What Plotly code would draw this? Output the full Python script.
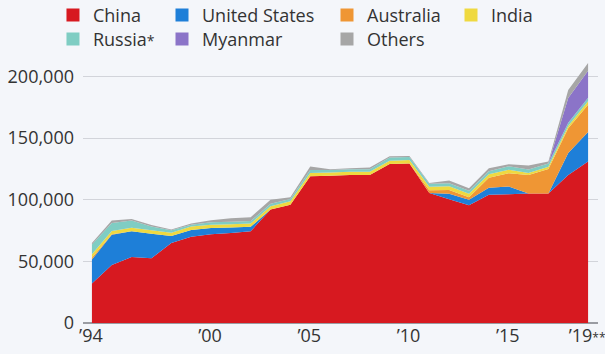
import plotly.graph_objects as go

years = list(range(1994, 2020))
tick_vals = [1994, 2000, 2005, 2010, 2015, 2019]
tick_text = ["’94", "’00", "’05", "’10", "’15", "’19<span style='font-size:12px'>**</span>"]

china = [32000, 47000, 53500, 52500, 65000, 70000, 72000, 73000, 74500, 92000, 96000,
         119000, 119500, 120000, 120000, 129000, 129500, 105500, 100500, 95500, 104000,
         104500, 105000, 105000, 120000, 131000]
united_states = [19500, 24500, 21000, 20000, 5500, 5500, 5000, 4500, 3500, 0, 0, 0, 0, 0, 0,
                 0, 0, 0, 4300, 4500, 5800, 6200, 0, 0, 18000, 24000]
australia = [1500, 500, 0, 0, 0, 0, 0, 0, 0, 0, 0, 0, 0, 0, 0, 0, 0, 2200, 3200, 2000, 8000,
             10800, 15000, 20000, 20000, 22000]
india = [2700, 2700, 2700, 2700, 2700, 2700, 2700, 2700, 2700, 2700, 2700, 2700, 2700, 2700,
         2700, 2700, 2700, 2800, 2900, 2900, 2900, 2900, 1700, 1800, 1800, 3000]
russia = [8000, 6500, 6000, 3000, 2000, 1600, 2000, 2000, 2000, 2000, 2000, 2500, 2000, 2000,
          2000, 2500, 2500, 2500, 2400, 2400, 2500, 2800, 2800, 2600, 2700, 2700]
myanmar = [0] * 24 + [20000, 22000]
others = [1300, 2000, 1200, 1300, 600, 900, 1600, 2800, 3100, 3300, 1300, 2800, 600, 800,
          1400, 1000, 800, 500, 2300, 2100, 2400, 1600, 3300, 1600, 6500, 6300]

series = [
    ("China", china, "#d71920"),
    ("United States", united_states, "#1e7fd8"),
    ("Australia", australia, "#ef9634"),
    ("India", india, "#efd940"),
    ("Russia<span style='font-size:14px'>*</span>", russia, "#7fcdc3"),
    ("Myanmar", myanmar, "#8b74c8"),
    ("Others", others, "#a6a6a6"),
]

# legend slot for each series: (column x in paper coords, row y in paper coords)
COLS = [-0.0583, 0.1534, 0.4738, 0.7146]
ROWS = [1.2309, 1.1404]
slots = [(COLS[0], ROWS[0]), (COLS[1], ROWS[0]), (COLS[2], ROWS[0]), (COLS[3], ROWS[0]),
         (COLS[0], ROWS[1]), (COLS[1], ROWS[1]), (COLS[2], ROWS[1])]

FONT = "Open Sans"
TXT = "#333333"
BG = "#f4f6fa"

fig = go.Figure()
for name, vals, color in series:
    fig.add_trace(go.Scatter(
        x=years, y=vals, stackgroup="one", mode="none", fillcolor=color,
        name=name, showlegend=False, hoverinfo="skip"))

legend_layout = {}
for i, (name, vals, color) in enumerate(series):
    key = "legend" if i == 0 else f"legend{i + 1}"
    fig.add_trace(go.Scatter(
        x=[None], y=[None], mode="markers", name=name, legend=key,
        marker=dict(symbol="square", size=13, color=color), showlegend=True))
    lx, ly = slots[i]
    legend_layout[key] = dict(orientation="v", yanchor="top", xanchor="left", x=lx, y=ly,
                              bgcolor="rgba(0,0,0,0)", borderwidth=0,
                              font=dict(family=FONT, size=18, color=TXT))

fig.update_layout(
    width=605, height=354,
    margin=dict(l=83, r=7, t=58, b=31, autoexpand=False),
    paper_bgcolor=BG, plot_bgcolor=BG,
    font=dict(family=FONT, size=18, color=TXT),
    xaxis=dict(range=[1993.55, 2019.5], tickvals=tick_vals, ticktext=tick_text,
               showgrid=False, zeroline=False, showline=False, ticks="",
               ticklabeloverflow="allow", automargin=False, ticklabelshift=-1,
               tickfont=dict(family=FONT, size=18, color=TXT)),
    yaxis=dict(range=[0, 215000], tickvals=[0, 50000, 100000, 150000, 200000],
               tickformat=",d", showgrid=True, gridcolor="#d2d4da", gridwidth=1,
               zeroline=True, zerolinecolor="#9a9ca2", zerolinewidth=2,
               showline=False, ticks="", ticklabelstandoff=8, automargin=False,
               tickfont=dict(family=FONT, size=18, color=TXT)),
    hovermode=False,
    **legend_layout,
)

fig.write_html("out.html")
